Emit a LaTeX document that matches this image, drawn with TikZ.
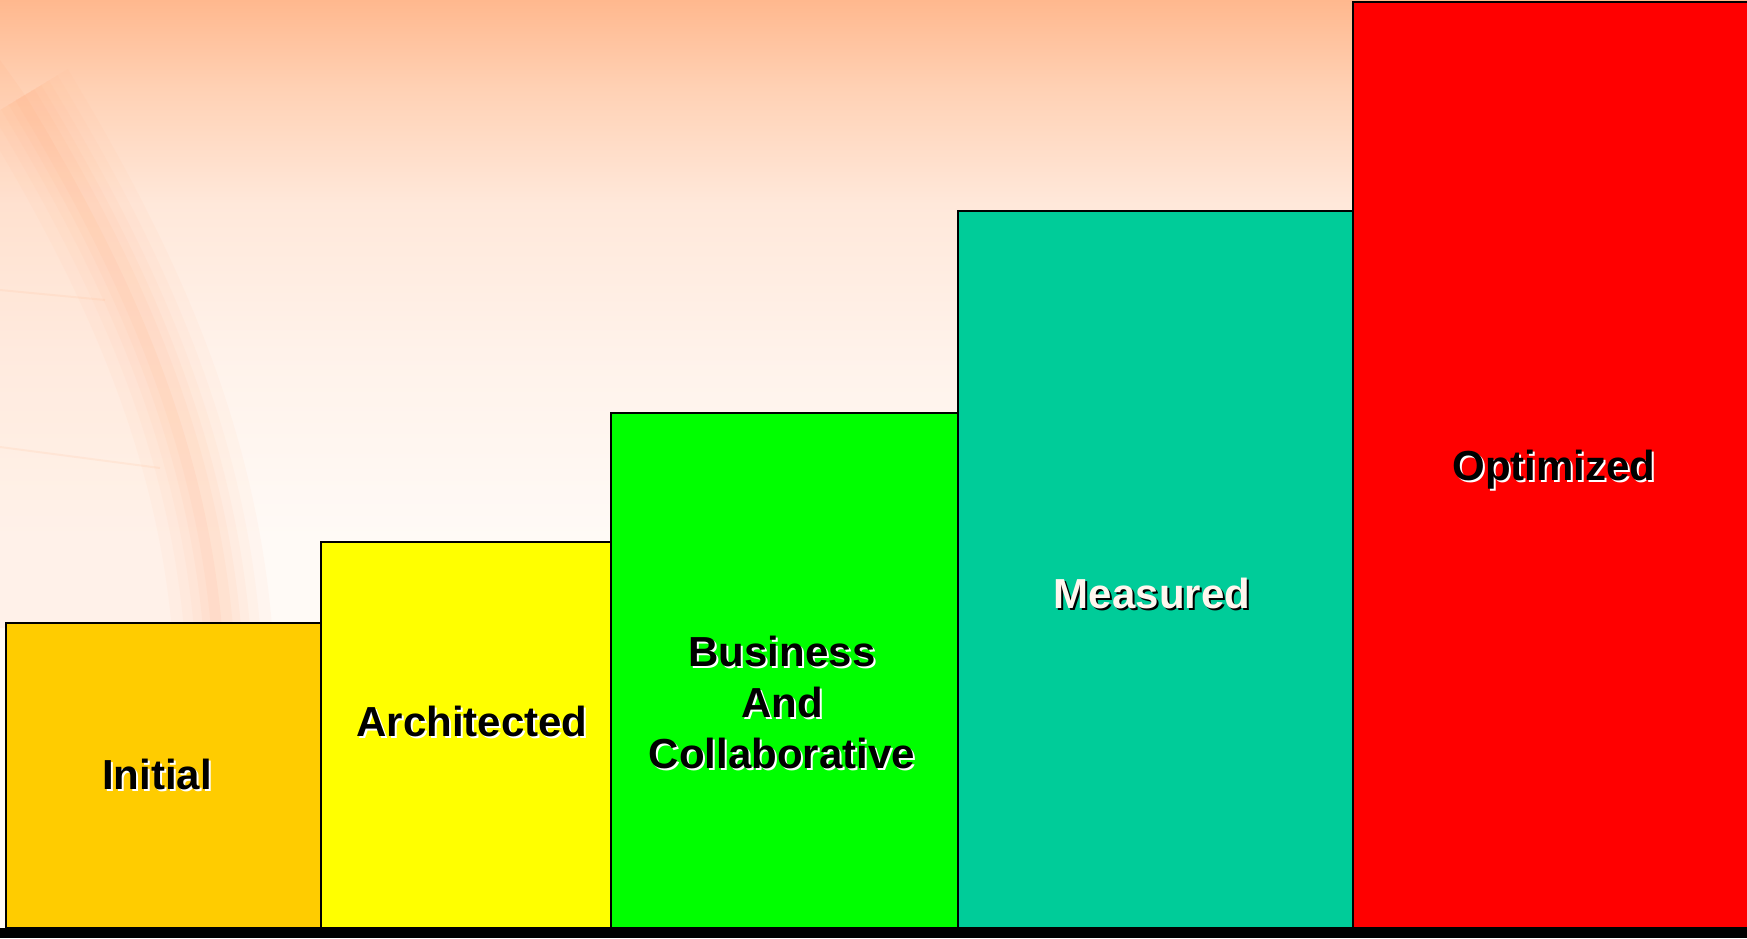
\documentclass[tikz,border=0pt]{standalone}
\usepackage{fontspec}
\setmainfont{Liberation Sans}
\usetikzlibrary{positioning}

\definecolor{skytop}{HTML}{FFB88E}
\definecolor{skypeach}{HTML}{FFD2B6}
\definecolor{skylight}{HTML}{FFE8DA}
\definecolor{skymid}{HTML}{FFF2EA}
\definecolor{skylow}{HTML}{FFFAF6}
\definecolor{globeband}{HTML}{FFAA78}
\definecolor{initialgold}{HTML}{FFCC00}
\definecolor{archyellow}{HTML}{FFFF00}
\definecolor{collabgreen}{HTML}{00FF00}
\definecolor{measuredteal}{HTML}{00CC99}
\definecolor{optimizedred}{HTML}{FF0000}
\definecolor{paletext}{HTML}{FFF6EE}

\pgfdeclareverticalshading{peachsky}{100bp}{color(0bp)=(skylow); color(25bp)=(skylow); color(46bp)=(skylow); color(56bp)=(skymid); color(64bp)=(skylight); color(70bp)=(skypeach); color(75bp)=(skytop); color(100bp)=(skytop)}

\begin{document}
\begin{tikzpicture}[
    x=1pt, y=-1pt,
    stage/.style={rectangle, draw, line width=2pt, inner sep=0pt, outer sep=0pt, anchor=south west},
    stagetext/.style={font=\fontsize{42}{51}\selectfont\bfseries, inner sep=0pt, align=center},
    lightshadow/.style={stagetext, text=white, xshift=2pt, yshift=-2pt},
    darkshadow/.style={stagetext, text=black, xshift=2pt, yshift=-2pt}
]
    \useasboundingbox (0,0) rectangle (1747,938);

    % background
    \shade[shading=peachsky] (0,0) rectangle (1747,928);
    \fill[globeband, opacity=0.10] (0,60) -- (25,95) .. controls (125,260) and (205,430) .. (222,628) -- (0,628) -- cycle;
    \foreach \w/\o in {100/0.05, 76/0.05, 56/0.06, 38/0.07, 22/0.08}
        \draw[globeband, line width=\w pt, opacity=\o] (25,95) .. controls (125,260) and (205,430) .. (222,628);
    \draw[globeband, line width=2pt, opacity=0.12] (0,290) -- (105,300);
    \draw[globeband, line width=2pt, opacity=0.12] (0,447) -- (160,468);
    \fill[black] (0,928) rectangle (1747,938);

    % stages
    \node[stage, fill=initialgold, minimum width=315pt, minimum height=305pt] (initial) at (5.5,928) {};
    \node[stage, fill=archyellow, minimum width=290pt, minimum height=386pt] (architected) at (initial.south east) {};
    \node[stage, fill=collabgreen, minimum width=347pt, minimum height=515pt] (business) at (architected.south east) {};
    \node[stage, fill=measuredteal, minimum width=395pt, minimum height=717pt] (measured) at (business.south east) {};
    \node[stage, fill=optimizedred, minimum width=398pt, minimum height=926pt] (optimized) at (measured.south east) {};

    % labels
    \node[lightshadow, anchor=base] (initial-shadow) at (157,789) {Initial};
    \node[stagetext, anchor=base] (initial-text) at (157,789) {Initial};

    \node[lightshadow, anchor=base] (architected-shadow) at (472,736) {Architected};
    \node[stagetext, anchor=base] (architected-text) at (472,736) {Architected};

    \node[lightshadow, anchor=north] (business-shadow) at (782,636) {Business\\And\\Collaborative};
    \node[stagetext, anchor=north] (business-text) at (782,636) {Business\\And\\Collaborative};

    \node[darkshadow, anchor=base] (measured-shadow) at (1152,608) {Measured};
    \node[stagetext, text=paletext, anchor=base] (measured-text) at (1152,608) {Measured};

    \node[lightshadow, anchor=base] (optimized-shadow) at (1554,480) {Optimized};
    \node[stagetext, anchor=base] (optimized-text) at (1554,480) {Optimized};
\end{tikzpicture}
\end{document}
